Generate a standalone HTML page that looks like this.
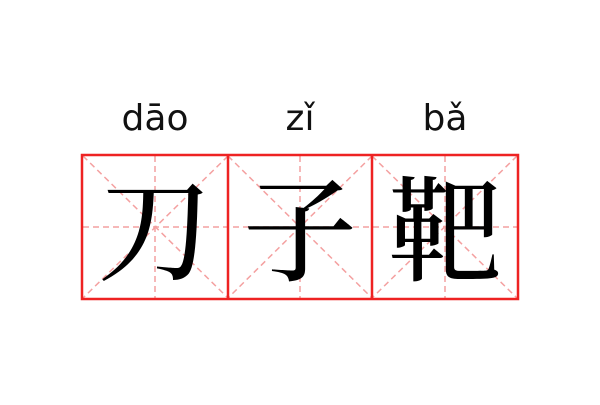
<!DOCTYPE html>
<html><head><meta charset="utf-8"><style>
body{margin:0;width:600px;height:400px;background:#fff;overflow:hidden}
</style></head><body>
<svg width="600" height="400" xmlns="http://www.w3.org/2000/svg">
<g font-family="DejaVu Sans, Liberation Sans, sans-serif" font-size="36" fill="#111" text-anchor="middle">
<text x="155" y="130">dāo</text>
<text x="300" y="130">zǐ</text>
<text x="445" y="130">bǎ</text>
</g>
<g stroke="#f4a0a0" stroke-width="1.5" stroke-dasharray="6,4" fill="none">
<line x1="83" y1="227" x2="517" y2="227"/>
<line x1="155" y1="156" x2="155" y2="298"/>
<line x1="300" y1="156" x2="300" y2="298"/>
<line x1="445" y1="156" x2="445" y2="298"/>
<line x1="83" y1="156" x2="228" y2="298"/><line x1="228" y1="156" x2="83" y2="298"/>
<line x1="228" y1="156" x2="372" y2="298"/><line x1="372" y1="156" x2="228" y2="298"/>
<line x1="372" y1="156" x2="517" y2="298"/><line x1="517" y1="156" x2="372" y2="298"/>
</g>
<g stroke="#ee2222" stroke-width="2.5" fill="none">
<rect x="82" y="155" width="436" height="144"/>
<line x1="228" y1="155" x2="228" y2="299"/>
<line x1="372" y1="155" x2="372" y2="299"/>
</g>
<g font-family="Noto Serif CJK SC, serif" font-weight="500" font-size="114" fill="#000" text-anchor="middle">
<text x="155" y="272">刀</text>
<text x="300" y="272">子</text>
<text x="445" y="272">靶</text>
</g>
</svg>
</body></html>
